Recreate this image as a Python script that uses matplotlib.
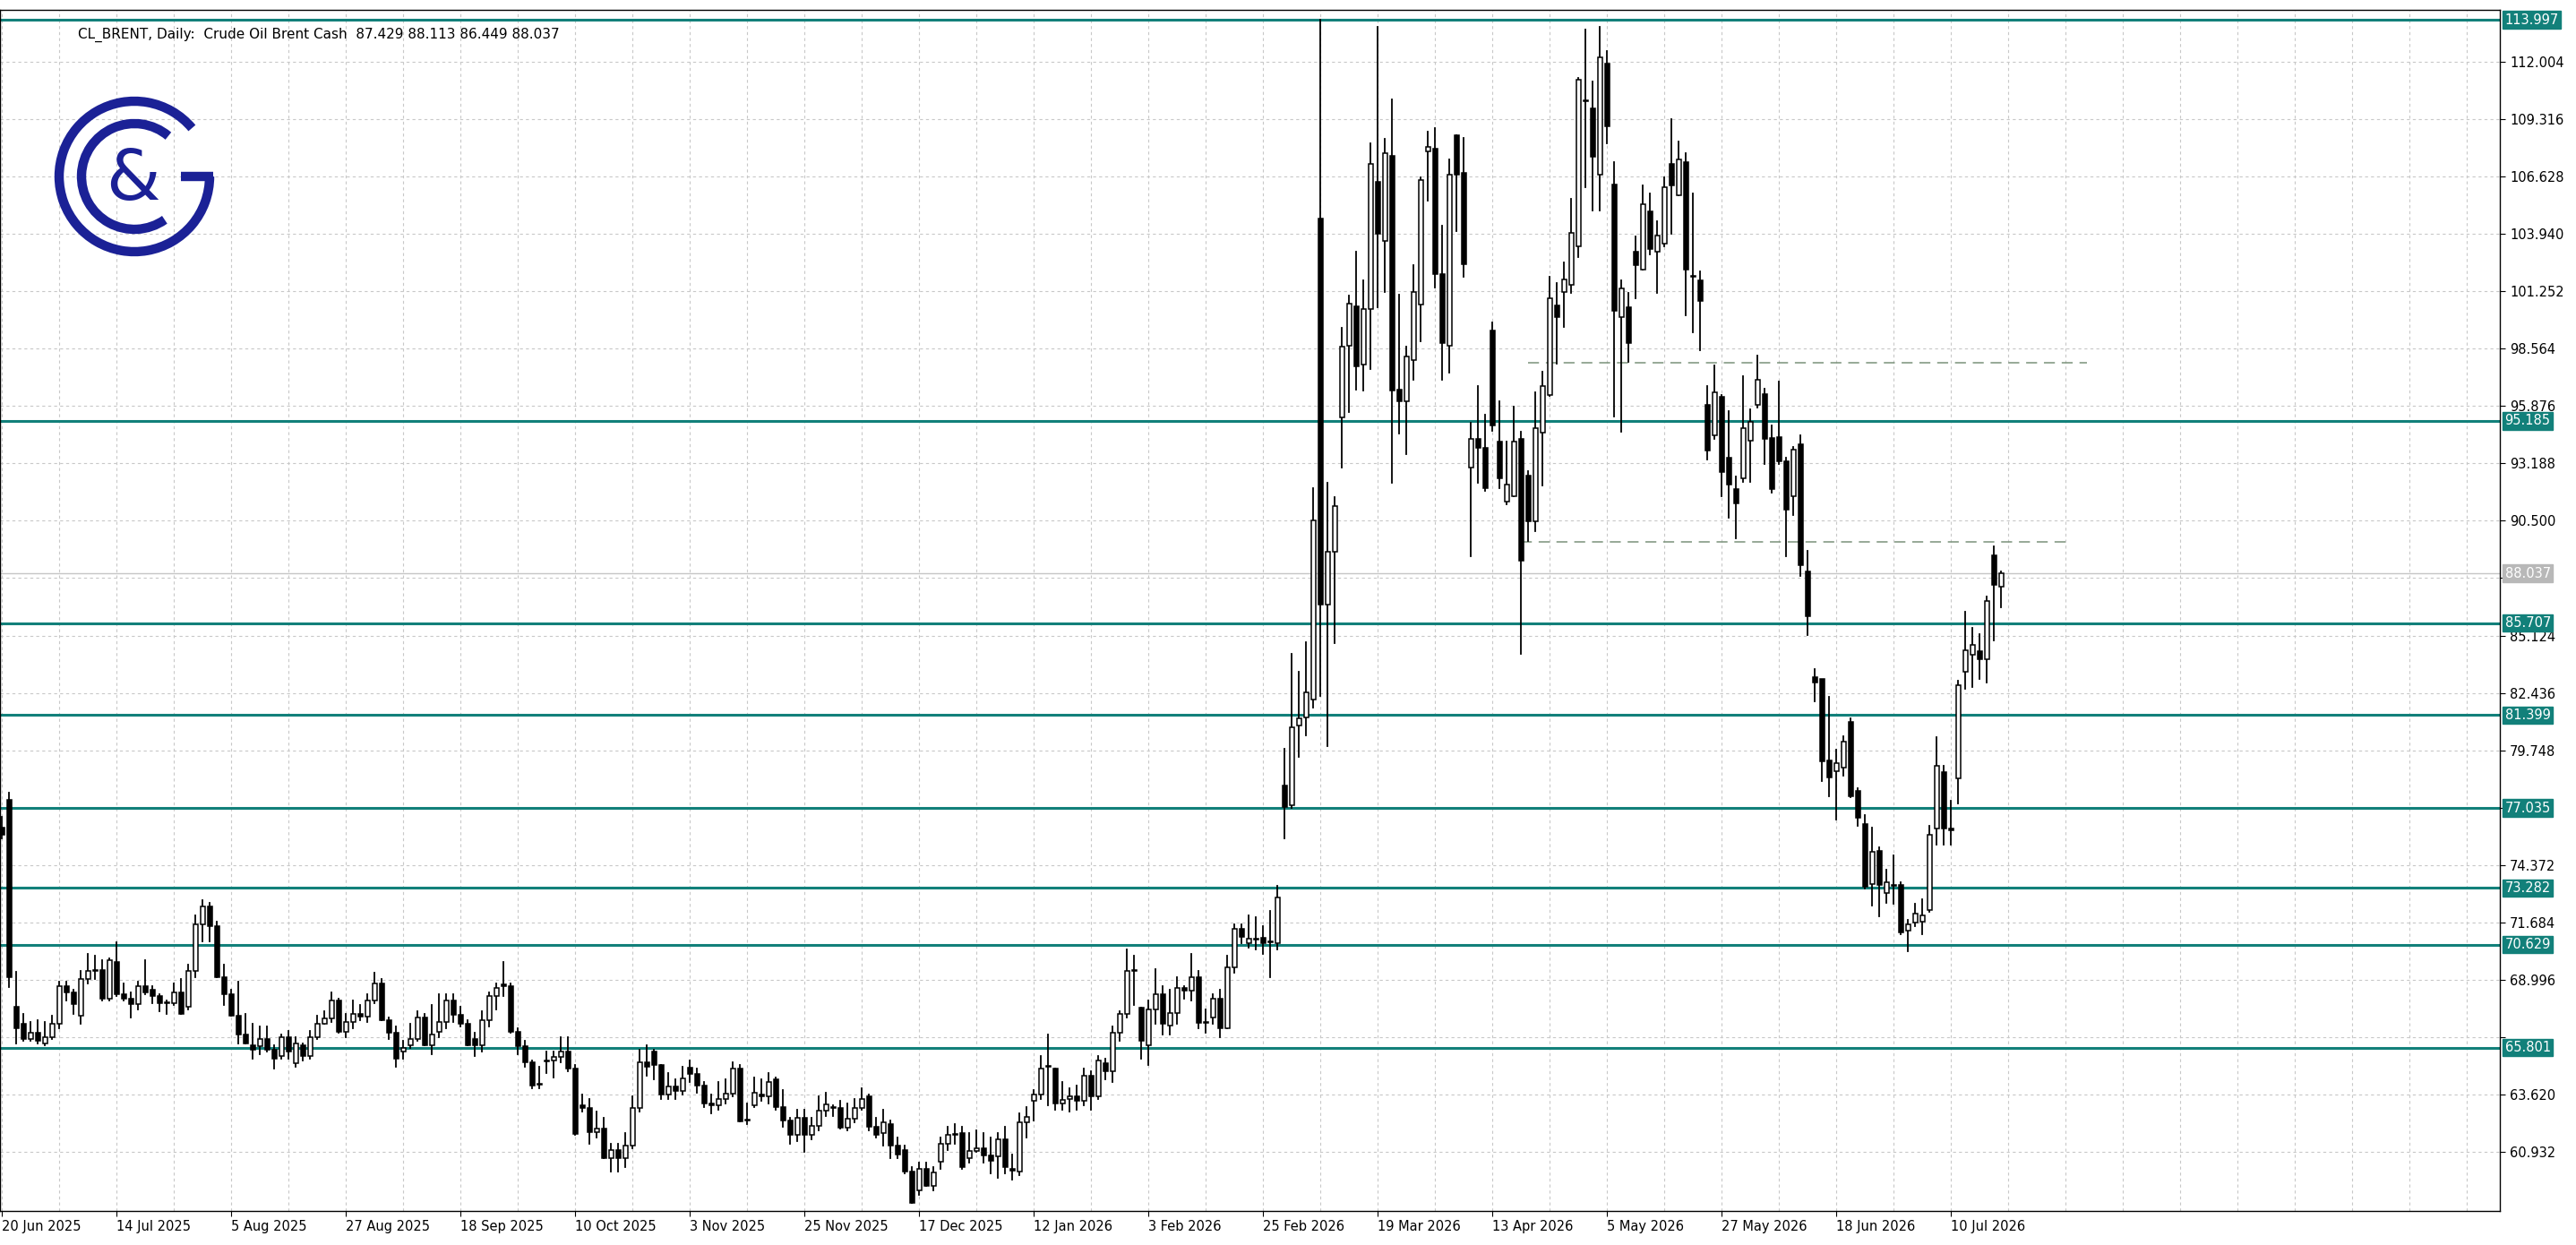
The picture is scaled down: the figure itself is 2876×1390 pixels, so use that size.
import matplotlib
matplotlib.use("Agg")
import matplotlib.pyplot as plt
from matplotlib.patches import Rectangle, Arc

# daily candles (open, high, low, close)
candles = [
    (76.1, 76.6, 75.6, 75.8), (77.4, 77.75, 68.65, 69.1), (67.7, 69.35, 66.0, 66.7), (66.9, 67.4, 66.1, 66.2),
    (66.2, 67.0, 66.1, 66.5), (66.5, 67.1, 66.0, 66.1), (66.0, 67.0, 65.9, 66.3), (66.3, 67.3, 66.2, 66.9),
    (66.9, 68.9, 66.7, 68.7), (68.7, 68.9, 68.0, 68.4), (68.4, 68.5, 67.4, 67.85), (67.3, 69.4, 66.9, 69.0),
    (69.0, 70.2, 68.8, 69.4), (69.4, 70.1, 69.0, 69.4), (69.45, 69.9, 68.0, 68.1), (68.1, 70.0, 68.0, 69.9),
    (69.8, 70.75, 68.2, 68.3), (68.3, 68.8, 68.0, 68.1), (68.1, 68.4, 67.2, 67.85), (67.85, 68.9, 67.6, 68.7),
    (68.7, 69.9, 68.3, 68.4), (68.5, 68.7, 67.9, 68.2), (68.2, 68.3, 67.5, 67.9), (67.9, 68.0, 67.4, 67.9),
    (67.9, 68.8, 67.8, 68.4), (68.4, 69.0, 67.4, 67.4), (67.7, 69.7, 67.6, 69.4), (69.4, 72.0, 69.1, 71.6),
    (71.6, 72.7, 70.8, 72.4), (72.4, 72.6, 70.8, 71.5), (71.5, 71.7, 69.1, 69.1), (69.1, 69.7, 67.8, 68.3),
    (68.3, 68.5, 67.3, 67.3), (67.3, 68.9, 66.0, 66.4), (66.4, 67.4, 66.0, 66.0), (65.9, 66.9, 65.3, 65.7),
    (65.85, 66.8, 65.5, 66.2), (66.2, 66.8, 65.6, 65.7), (65.7, 65.9, 64.8, 65.3), (65.4, 66.4, 65.3, 66.3),
    (66.3, 66.6, 65.3, 65.6), (65.05, 66.3, 64.9, 66.0), (65.9, 66.0, 65.2, 65.4), (65.4, 66.6, 65.3, 66.3),
    (66.3, 67.3, 66.2, 66.9), (66.9, 67.5, 66.9, 67.15), (67.15, 68.4, 67.0, 68.0), (68.0, 68.1, 66.5, 66.55),
    (66.55, 67.4, 66.3, 67.0), (67.0, 68.0, 66.7, 67.4), (67.4, 67.8, 67.1, 67.25), (67.25, 68.3, 67.0, 68.0),
    (68.0, 69.3, 67.9, 68.8), (68.8, 69.0, 67.1, 67.1), (67.1, 67.2, 66.2, 66.5), (66.5, 66.8, 64.9, 65.3),
    (65.6, 66.1, 65.3, 65.8), (65.9, 66.9, 65.8, 66.2), (66.2, 67.5, 66.1, 67.2), (67.2, 67.4, 65.9, 65.9),
    (65.9, 67.8, 65.5, 66.4), (66.55, 68.3, 66.3, 67.0), (67.0, 68.3, 66.7, 68.0), (68.0, 68.3, 67.0, 67.35),
    (67.35, 67.7, 66.8, 66.9), (66.9, 67.1, 65.9, 65.9), (66.2, 66.5, 65.4, 65.9), (65.9, 67.5, 65.6, 67.1),
    (67.1, 68.4, 66.8, 68.2), (68.2, 68.8, 67.6, 68.6), (68.75, 69.8, 68.2, 68.7), (68.7, 68.8, 66.5, 66.55),
    (66.55, 66.7, 65.5, 65.85), (65.85, 66.1, 64.9, 65.1), (65.1, 65.2, 63.9, 64.0), (64.05, 64.9, 63.9, 64.05),
    (65.15, 65.6, 64.6, 65.2), (65.2, 65.6, 64.4, 65.35), (65.35, 66.3, 65.1, 65.6), (65.6, 66.3, 64.7, 64.8),
    (64.8, 65.0, 61.7, 61.75), (63.1, 63.6, 62.8, 62.95), (62.95, 63.4, 61.3, 61.85), (61.85, 62.8, 61.6, 62.0),
    (62.0, 62.5, 60.6, 60.6), (60.6, 61.3, 60.0, 61.0), (61.0, 61.3, 60.0, 60.6), (60.6, 61.8, 60.2, 61.2),
    (61.2, 63.5, 61.1, 62.95), (62.95, 65.7, 62.8, 65.1), (65.1, 65.9, 64.5, 64.9), (65.6, 65.7, 64.3, 64.97),
    (64.97, 65.0, 63.4, 63.6), (63.6, 64.6, 63.4, 63.96), (63.96, 64.3, 63.4, 63.75), (63.75, 64.9, 63.6, 64.35),
    (64.85, 65.2, 64.2, 64.55), (64.55, 64.8, 63.7, 64.0), (64.0, 64.2, 63.0, 63.2), (63.2, 63.6, 62.7, 63.1),
    (63.1, 64.2, 62.9, 63.4), (63.4, 64.3, 63.2, 63.65), (63.65, 65.1, 63.5, 64.8), (64.8, 65.0, 62.35, 62.35),
    (62.4, 63.2, 62.2, 62.4), (63.1, 64.4, 63.0, 63.7), (63.6, 64.3, 63.3, 63.5), (63.5, 64.6, 63.2, 64.2),
    (64.3, 64.4, 62.9, 63.0), (63.0, 63.8, 62.1, 62.4), (62.4, 62.5, 61.3, 61.7), (61.7, 62.9, 61.4, 62.5),
    (62.5, 62.9, 60.9, 61.7), (61.7, 62.5, 61.5, 62.15), (62.15, 63.5, 61.9, 62.85), (62.85, 63.7, 62.6, 63.15),
    (63.0, 63.1, 62.6, 62.95), (62.95, 63.3, 62.0, 62.05), (62.05, 63.2, 61.9, 62.45), (62.45, 63.4, 62.3, 62.95),
    (62.95, 63.9, 62.9, 63.4), (63.5, 63.6, 61.9, 62.1), (62.1, 62.5, 61.6, 61.7), (61.8, 62.9, 61.2, 62.3),
    (62.2, 62.4, 60.6, 61.2), (61.2, 61.6, 60.6, 60.8), (61.0, 61.2, 59.9, 60.0), (60.0, 60.2, 58.5, 58.5),
    (59.1, 60.4, 58.9, 60.1), (60.1, 60.4, 59.3, 59.3), (59.3, 60.2, 59.1, 59.93), (60.45, 61.6, 60.1, 61.3),
    (61.3, 62.1, 61.0, 61.7), (61.7, 62.2, 61.3, 61.7), (61.8, 62.1, 60.1, 60.2), (60.6, 61.8, 60.4, 60.95),
    (60.95, 61.9, 60.9, 61.1), (61.1, 61.8, 60.4, 60.74), (60.74, 61.6, 59.9, 60.5), (60.7, 61.8, 59.7, 61.5),
    (61.5, 62.1, 59.9, 60.2), (60.1, 60.8, 59.6, 60.04), (60.0, 62.7, 59.8, 62.3), (62.28, 63.0, 61.6, 62.56),
    (63.3, 63.8, 62.4, 63.6), (63.61, 65.4, 63.4, 64.8), (64.9, 66.4, 63.1, 64.9), (64.8, 64.8, 62.9, 63.16),
    (63.16, 64.2, 62.9, 63.33), (63.4, 63.9, 62.8, 63.5), (63.5, 64.0, 62.9, 63.29), (63.29, 64.8, 63.1, 64.5),
    (64.5, 64.7, 62.9, 63.5), (63.5, 65.4, 63.4, 65.2), (65.05, 65.3, 64.3, 64.7), (64.7, 66.8, 64.2, 66.5),
    (66.5, 67.5, 66.1, 67.4), (67.4, 70.4, 67.2, 69.4), (69.4, 70.1, 67.8, 69.45), (67.66, 67.66, 65.3, 66.1),
    (65.9, 68.0, 65.0, 67.6), (67.6, 69.5, 66.9, 68.3), (68.3, 68.7, 66.4, 66.93), (66.83, 68.5, 66.4, 67.43),
    (67.43, 69.1, 66.9, 68.6), (68.6, 68.7, 68.1, 68.47), (68.47, 70.2, 68.0, 69.1), (69.1, 69.4, 66.7, 66.97),
    (66.98, 67.6, 66.5, 66.98), (67.2, 68.3, 66.9, 68.1), (68.1, 68.5, 66.3, 66.7), (66.7, 70.1, 66.7, 69.56),
    (69.56, 71.6, 69.3, 71.35), (71.35, 71.6, 70.7, 71.0), (70.7, 72.0, 70.5, 70.9), (70.86, 71.9, 70.4, 70.86),
    (70.95, 71.5, 70.2, 70.68), (70.75, 72.2, 69.1, 70.75), (70.7, 73.4, 70.4, 72.85), (78.09, 79.82, 75.62, 77.07),
    (77.15, 84.27, 77.02, 80.84), (80.89, 83.43, 79.44, 81.22), (81.27, 84.83, 80.45, 82.44), (82.11, 92.03, 81.73, 90.51),
    (104.68, 114.0, 82.29, 86.56), (86.56, 92.29, 79.95, 89.03), (89.03, 91.6, 84.78, 91.21), (95.34, 99.54, 92.99, 98.65),
    (98.73, 101.07, 95.6, 100.69), (100.56, 103.1, 96.67, 97.74), (97.81, 101.76, 96.62, 100.43), (100.43, 108.2, 97.63, 107.23),
    (106.41, 113.67, 100.5, 103.95), (103.62, 108.4, 101.25, 107.74), (107.61, 110.28, 92.29, 96.62), (96.67, 101.12, 94.58, 96.11),
    (96.11, 98.65, 93.61, 98.22), (98.02, 102.47, 97.13, 101.25), (100.64, 106.62, 98.9, 106.47), (107.81, 108.76, 105.52, 108.02),
    (107.94, 108.91, 101.45, 102.09), (102.09, 104.33, 97.13, 98.83), (98.7, 107.43, 97.43, 106.72), (108.6, 108.6, 104.1, 106.75),
    (106.8, 108.45, 101.96, 102.55), (92.99, 95.09, 88.85, 94.33), (94.33, 96.82, 92.29, 93.94), (93.94, 95.47, 91.9, 92.03),
    (99.42, 99.8, 94.71, 94.96), (94.2, 96.11, 92.03, 92.49), (91.4, 94.2, 91.27, 92.21), (91.65, 95.85, 91.65, 94.2),
    (94.33, 94.66, 84.27, 88.65), (92.6, 92.85, 89.54, 90.46), (90.46, 96.54, 90.0, 94.83), (94.63, 97.51, 92.16, 96.82),
    (96.41, 101.96, 96.36, 100.94), (100.61, 101.66, 97.89, 100.05), (101.25, 102.6, 99.59, 101.83), (101.58, 105.58, 101.2, 104.0),
    (103.36, 111.25, 102.85, 111.17), (110.2, 113.54, 106.16, 110.18), (109.85, 111.12, 105.07, 107.56), (106.75, 113.67, 105.07, 112.22),
    (111.94, 112.52, 108.2, 109.01), (106.29, 107.31, 95.4, 100.36), (100.05, 101.78, 94.66, 101.38), (100.53, 101.2, 97.96, 98.83),
    (103.11, 103.82, 100.94, 102.47), (102.29, 106.21, 102.29, 105.35), (105.01, 105.85, 102.98, 103.23), (103.1, 104.56, 101.2, 103.87),
    (103.49, 106.62, 103.36, 106.16), (107.23, 109.34, 103.95, 106.21), (105.78, 108.27, 105.78, 107.43), (107.31, 107.74, 100.13, 102.27),
    (101.96, 105.83, 99.34, 101.96), (101.76, 102.21, 98.52, 100.82), (95.94, 96.83, 93.38, 93.79), (94.53, 97.8, 94.33, 96.53),
    (96.3, 96.39, 91.67, 92.79), (93.44, 95.65, 90.64, 92.2), (91.97, 92.56, 89.67, 91.32), (92.5, 97.27, 92.32, 94.83),
    (94.27, 95.71, 92.32, 95.15), (95.94, 98.24, 95.8, 97.12), (96.45, 96.68, 93.15, 94.33), (94.38, 94.97, 91.82, 91.97),
    (94.41, 97.03, 93.15, 93.29), (93.29, 93.44, 88.82, 91.03), (91.67, 93.97, 90.79, 93.82), (94.09, 94.53, 87.9, 88.44),
    (88.14, 89.08, 85.14, 86.02), (83.19, 83.55, 82.02, 82.9), (83.08, 83.0, 78.28, 79.22), (79.25, 82.25, 77.6, 78.48),
    (78.78, 79.75, 76.51, 79.16), (78.92, 80.42, 78.57, 80.13), (81.07, 81.22, 77.54, 77.6), (77.83, 77.98, 76.21, 76.57),
    (76.3, 76.71, 73.27, 73.36), (73.48, 76.13, 72.47, 74.98), (75.04, 75.18, 71.96, 73.42), (73.03, 74.15, 72.59, 73.56),
    (73.42, 74.83, 72.53, 73.39), (73.42, 73.56, 71.12, 71.21), (71.27, 71.8, 70.32, 71.59), (71.65, 72.53, 71.5, 72.09),
    (71.71, 72.74, 71.12, 72.0), (72.24, 76.21, 72.18, 75.77), (76.07, 80.34, 75.33, 79.01), (78.72, 79.01, 75.33, 76.07),
    (76.07, 77.39, 75.33, 76.01), (78.42, 82.99, 77.24, 82.78), (83.43, 86.23, 82.63, 84.43), (84.22, 85.49, 82.69, 84.7),
    (84.4, 85.2, 83.07, 84.02), (84.02, 86.96, 82.9, 86.76), (88.88, 89.32, 84.9, 87.49), (87.429, 88.113, 86.449, 88.037),
]
opens = [c[0] for c in candles]
highs = [c[1] for c in candles]
lows = [c[2] for c in candles]
closes = [c[3] for c in candles]

level_prices = [113.997, 95.185, 85.707, 81.399, 77.035, 73.282, 70.629, 65.801]
axis_ticks = [112.004, 109.316, 106.628, 103.940, 101.252, 98.564, 95.876, 93.188, 90.500, 87.812,
              85.124, 82.436, 79.748, 77.060, 74.372, 71.684, 68.996, 66.308, 63.620, 60.932]
date_labels = ["20 Jun 2025", "14 Jul 2025", "5 Aug 2025", "27 Aug 2025", "18 Sep 2025", "10 Oct 2025",
               "3 Nov 2025", "25 Nov 2025", "17 Dec 2025", "12 Jan 2026", "3 Feb 2026", "25 Feb 2026",
               "19 Mar 2026", "13 Apr 2026", "5 May 2026", "27 May 2026", "18 Jun 2026", "10 Jul 2026"]
dashed_levels = [(97.9, 213, 291), (89.5, 212, 288)]
last_price = 88.037

TEAL = "#12807a"
W, H = 2876, 1390
fig = plt.figure(figsize=(W / 100, H / 100), dpi=100)
ax = fig.add_axes([0, 38 / H, 2791 / W, (1379 - 38) / H])

ax.set_xlim(-0.3, 2791 / 8 - 0.3)
ax.set_ylim(58.14, 114.46)

# grid
for k in range(0, 350, 8):
    ax.axvline(k, color="#c8c8c8", lw=0.8, ls=(0, (3, 3)), zorder=0)
for t in axis_ticks:
    ax.axhline(t, color="#c8c8c8", lw=0.8, ls=(0, (3, 3)), zorder=0)

# candles
for i, (o, h, l, c) in enumerate(zip(opens, highs, lows, closes)):
    ax.plot([i, i], [l, h], color="black", lw=1.3, zorder=3)
    bottom = min(o, c)
    height = max(abs(c - o), 0.04)
    face = "white" if c >= o else "black"
    ax.add_patch(Rectangle((i - 0.32, bottom), 0.64, height, facecolor=face,
                           edgecolor="black", lw=1.1, zorder=4))

# support / resistance levels
for p in level_prices:
    ax.axhline(p, color=TEAL, lw=2.2, zorder=2)
    ax.annotate(f"{p:.3f}", xy=(1.0, p), xycoords=("axes fraction", "data"),
                xytext=(4, 0), textcoords="offset points", va="center", ha="left",
                fontsize=10.5, color="white", annotation_clip=False, zorder=7,
                bbox=dict(boxstyle="square,pad=0.15", fc=TEAL, ec=TEAL))

for p, x0, x1 in dashed_levels:
    ax.plot([x0, x1], [p, p], color="#7a927a", lw=1.1, ls=(0, (8, 5)), zorder=2)

ax.axhline(last_price, color="#c6c6c6", lw=1, zorder=1)
ax.annotate(f"{last_price:.3f}", xy=(1.0, last_price), xycoords=("axes fraction", "data"),
            xytext=(4, 0), textcoords="offset points", va="center", ha="left",
            fontsize=10.5, color="white", annotation_clip=False, zorder=7,
            bbox=dict(boxstyle="square,pad=0.15", fc="#b8b8b8", ec="#b8b8b8"))

# axes: price labels hidden where a level box sits on top of them
covered = {87.812, 77.060, 66.308}
ax.yaxis.tick_right()
ax.set_yticks(axis_ticks)
ax.set_yticklabels(["" if t in covered else f"{t:.3f}" for t in axis_ticks], fontsize=10.5)
ax.tick_params(axis="y", length=4, pad=4)
ax.set_xticks([16 * k for k in range(len(date_labels))])
ax.set_xticklabels(date_labels, fontsize=10.5, ha="left")
ax.tick_params(axis="x", length=4, pad=3)
for s in ax.spines.values():
    s.set_color("black")
    s.set_linewidth(1)

ax.text(0.031, 0.985, "CL_BRENT, Daily:  Crude Oil Brent Cash  87.429 88.113 86.449 88.037",
        transform=ax.transAxes, fontsize=11, va="top", ha="left", zorder=6)

# logo
NAVY = "#1b2196"
lax = fig.add_axes([50 / W, (H - 197 - 100) / H, 200 / W, 200 / H])
lax.set_xlim(-100, 100)
lax.set_ylim(-100, 100)
lax.axis("off")
lax.add_patch(Arc((0, 0), 168, 168, theta1=40, theta2=360, color=NAVY, lw=7.5))
lax.plot([52, 88], [0, 0], color=NAVY, lw=7.5, solid_capstyle="butt")
lax.add_patch(Arc((0, 0), 118, 118, theta1=50, theta2=305, color=NAVY, lw=7.5))
lax.text(-2, -4, "&", fontsize=56, color=NAVY, ha="center", va="center")

fig.savefig("out.png", dpi=100, facecolor="white")
